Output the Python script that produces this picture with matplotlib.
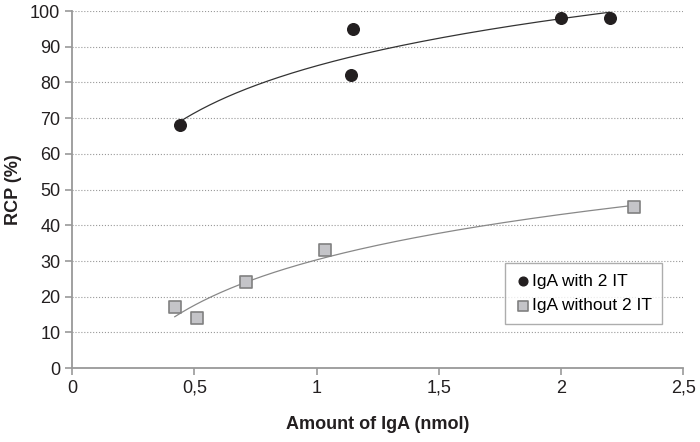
import numpy as np
import matplotlib
matplotlib.use("Agg")
import matplotlib.pyplot as plt

plt.rcParams['font.family'] = ['Liberation Sans', 'DejaVu Sans']

x_with = [0.44, 1.14, 1.15, 2.0, 2.2]
y_with = [68, 82, 95, 98, 98]
x_without = [0.42, 0.51, 0.71, 1.035, 2.3]
y_without = [17, 14, 24, 33, 45]
xticks = [0, 0.5, 1, 1.5, 2, 2.5]
xticklabels = ['0', '0,5', '1', '1,5', '2', '2,5']
yticks = list(range(0, 101, 10))

fig = plt.figure(figsize=(7, 4.42), dpi=100)
ax = fig.add_axes([0.103, 0.167, 0.873, 0.808])

def logfit(xs, ys):
    a, b = np.polyfit(np.log(xs), ys, 1)
    xx = np.linspace(min(xs), max(xs), 200)
    return xx, a * np.log(xx) + b

xx, yy = logfit(x_with, y_with)
ax.plot(xx, yy, color='#333333', lw=0.9, zorder=2)
xx2, yy2 = logfit(x_without, y_without)
ax.plot(xx2, yy2, color='#888888', lw=0.9, zorder=2)

ax.scatter(x_with, y_with, s=70, marker='o', color='#231f20', zorder=3, label='IgA with 2 IT')
ax.scatter(x_without, y_without, s=75, marker='s', facecolor='#c4c4c8', edgecolor='#808080',
           linewidth=1.2, zorder=3, label='IgA without 2 IT')

ax.set_xlim(0, 2.5)
ax.set_ylim(0, 100)
ax.set_xticks(xticks)
ax.set_xticklabels(xticklabels)
ax.set_yticks(yticks)
ax.yaxis.grid(True, linestyle=':', color='#999999', lw=0.8)
ax.set_axisbelow(True)
for s in ['top', 'right']:
    ax.spines[s].set_visible(False)
for s in ['left', 'bottom']:
    ax.spines[s].set_color('#999999')
    ax.spines[s].set_linewidth(1.3)
ax.tick_params(axis='both', colors='#999999', labelcolor='#231f20', labelsize=13,
               direction='out', length=5, width=1.2)
ax.set_xlabel('Amount of IgA (nmol)', fontsize=13, fontweight='bold', color='#231f20', labelpad=14)
ax.set_ylabel('RCP (%)', fontsize=13, fontweight='bold', color='#231f20', labelpad=6)

leg = ax.legend(loc='lower right', bbox_to_anchor=(0.98, 0.10), fontsize=12.5,
                frameon=True, fancybox=False, handletextpad=0.05, handlelength=0.9,
                borderpad=0.6, labelspacing=0.55, markerscale=0.75)
leg.get_frame().set_edgecolor('#999999')
leg.get_frame().set_linewidth(1.0)

fig.savefig('out.png', dpi=100)
